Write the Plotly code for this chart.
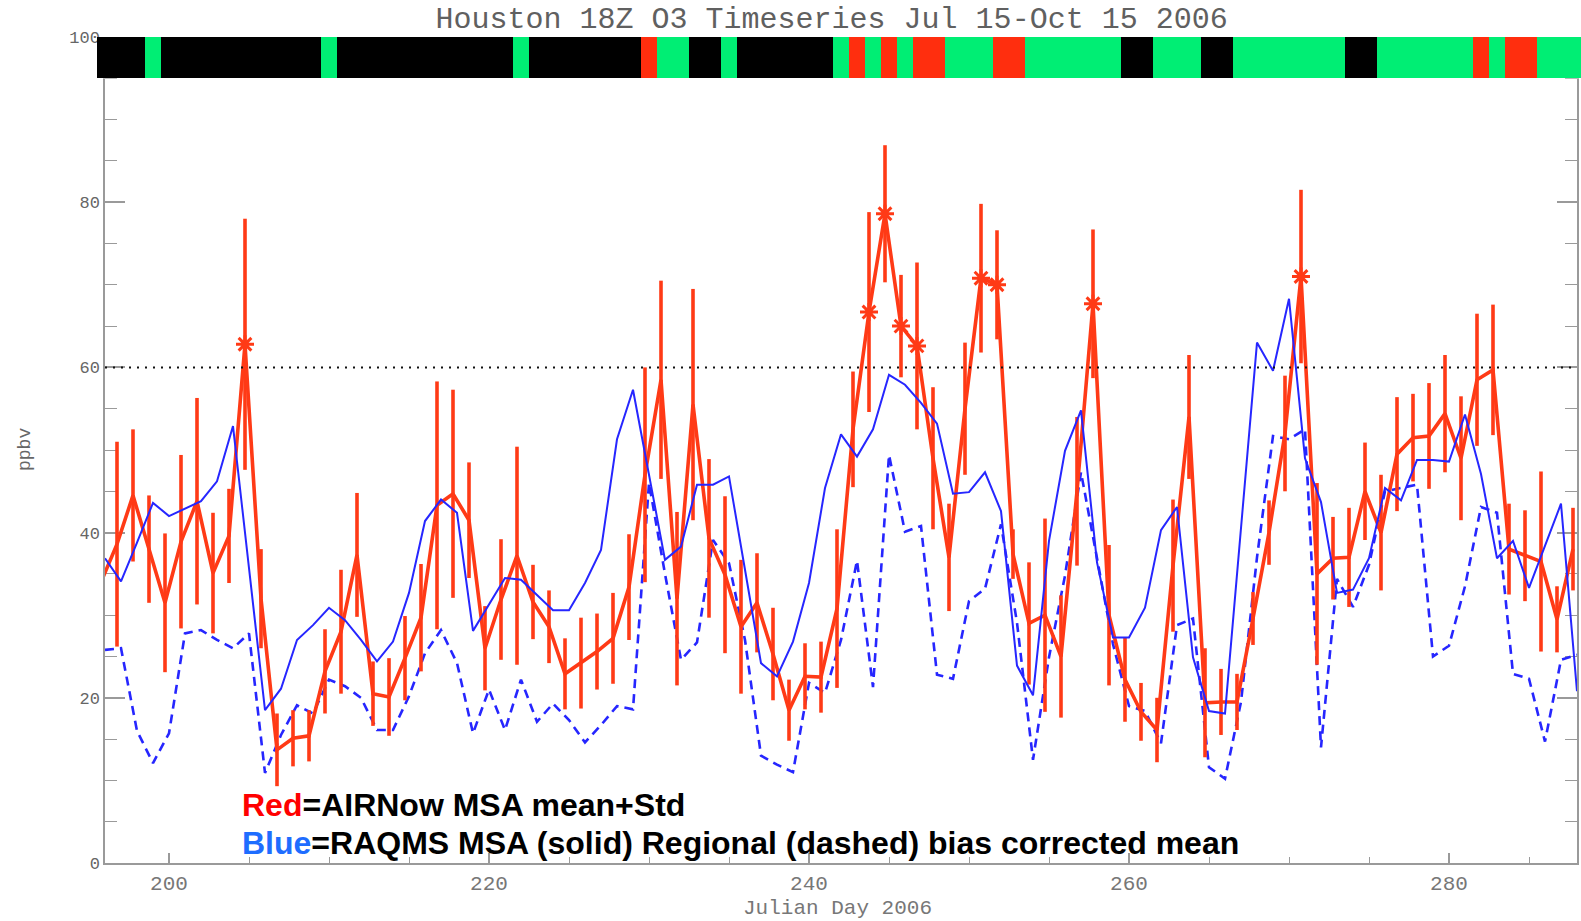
import plotly.graph_objects as go

# ---------------- data ----------------
TITLE = "Houston 18Z O3 Timeseries Jul 15-Oct 15 2006"
X_MIN, X_MAX = 196, 288
Y_MIN, Y_MAX = 0, 100
X_TICKS = [200, 220, 240, 260, 280]
Y_TICKS = [0, 20, 40, 60, 80, 100]
Y_TICK_TEXT = ["0", "20", "40", "60", "80", "100"]
THRESHOLD = 60
OBS_HOUR = 18  # 18Z observations

# daily air-quality band, days 196..288 (K=black, G=green, R=red)
band_days = list(range(196, 289))
band_quality = list(
    "KKKG" "KKKKKKKKKK" "G" "KKKKKKKKKKK" "G" "KKKKKKK" "RGGKKG" "KKKKKK"
    "GRGRGRRGGGRR" "GGGGGG" "KKGGGKK" "GGGGGGG" "KK" "GGGGGG" "RGRRGGG"
)
band_colors = {"K": "#000000", "G": "#00ee74", "R": "#ff2e0e"}

# AIRNow MSA mean and std (days 195..287 at 18Z)
obs_days = list(range(195, 288))
airnow_mean = [
    34.0, 38.6, 44.5, 38.0, 31.5, 38.9, 43.8, 35.1, 39.6, 62.8,
    32.0, 13.7, 15.1, 15.4, 23.2, 28.0, 37.3, 20.5, 20.1, 24.8,
    29.7, 43.3, 44.7, 41.5, 26.0, 31.9, 37.2, 31.6, 28.6, 22.9,
    24.2, 25.6, 27.2, 33.4, 47.0, 58.5, 32.0, 55.5, 39.3, 34.9,
    28.6, 31.5, 25.3, 18.5, 22.6, 22.5, 30.8, 52.5, 66.7, 78.6,
    65.0, 62.6, 49.0, 37.0, 55.0, 70.8, 70.0, 37.4, 29.0, 30.0,
    25.0, 45.0, 67.7, 30.0, 22.2, 18.3, 16.1, 36.0, 54.0, 19.4,
    19.5, 19.5, 29.6, 40.0, 52.0, 71.0, 35.0, 36.9, 37.0, 45.0,
    40.0, 49.5, 51.5, 51.7, 54.4, 49.0, 58.5, 59.7, 38.0, 37.2,
    36.5, 29.5, 38.0,
]
airnow_std = [
    8.0, 12.4, 8.0, 6.5, 8.4, 10.5, 12.5, 7.3, 5.7, 15.2,
    6.0, 4.4, 3.4, 3.1, 5.1, 7.5, 7.5, 3.9, 4.7, 5.1,
    6.5, 15.0, 12.6, 7.0, 5.1, 7.3, 13.2, 4.5, 4.4, 4.3,
    5.5, 4.6, 5.5, 6.4, 13.0, 12.0, 10.5, 14.0, 9.6, 9.5,
    8.1, 6.0, 5.6, 3.7, 4.0, 4.3, 9.6, 7.0, 12.1, 8.3,
    6.2, 10.1, 8.6, 6.5, 8.0, 9.0, 6.6, 3.0, 7.4, 11.7,
    7.4, 9.0, 9.0, 8.5, 5.1, 3.5, 3.9, 8.0, 7.5, 6.6,
    4.0, 3.4, 3.2, 3.9, 7.0, 10.5, 11.0, 5.0, 6.0, 5.9,
    7.0, 6.9, 5.3, 6.4, 7.1, 7.5, 8.0, 7.9, 5.5, 5.5,
    10.9, 4.0, 5.0,
]

# RAQMS bias corrected means (days 196..288)
model_days = list(range(196, 289))
raqms_msa = [
    36.9, 34.1, 38.8, 43.6, 42.0, 42.9, 43.8, 46.2, 52.9, 35.7,
    18.5, 21.1, 27.0, 28.8, 30.9, 29.4, 27.0, 24.4, 26.8, 32.7,
    41.4, 44.0, 42.4, 28.1, 31.3, 34.5, 34.3, 32.5, 30.6, 30.6,
    33.9, 37.9, 51.3, 57.3, 47.0, 36.7, 38.3, 45.8, 45.8, 46.8,
    35.5, 24.2, 22.6, 26.8, 33.9, 45.4, 51.9, 49.2, 52.5, 59.1,
    57.9, 55.7, 53.2, 44.7, 44.9, 47.3, 42.6, 23.9, 20.3, 39.0,
    49.9, 54.8, 36.4, 27.3, 27.3, 30.9, 40.3, 43.1, 24.9, 18.4,
    18.1, 40.5, 63.0, 59.6, 68.3, 49.0, 43.7, 32.7, 33.1, 36.9,
    45.4, 43.9, 48.8, 48.8, 48.6, 54.3, 47.1, 36.9, 39.0, 33.3,
    38.4, 43.5, 20.8,
]
raqms_regional = [
    25.8, 26.0, 16.0, 12.1, 15.7, 27.8, 28.2, 27.0, 26.0, 27.8,
    10.9, 15.5, 19.1, 18.1, 22.2, 21.4, 20.0, 16.1, 16.1, 20.2,
    25.4, 28.2, 24.2, 15.7, 21.0, 16.1, 22.2, 17.1, 19.3, 17.3,
    14.6, 16.7, 19.0, 18.6, 46.0, 35.0, 24.6, 26.7, 39.1, 36.3,
    27.0, 13.0, 11.9, 11.0, 21.8, 20.6, 27.0, 36.6, 21.3, 49.4,
    40.1, 40.8, 22.8, 22.3, 31.7, 33.2, 41.0, 29.1, 12.5, 24.9,
    34.8, 47.3, 36.9, 26.5, 19.0, 18.4, 14.5, 28.8, 29.6, 11.6,
    10.2, 19.5, 37.0, 51.7, 51.3, 52.5, 14.0, 34.4, 31.0, 36.1,
    45.0, 45.4, 45.8, 25.0, 26.3, 33.5, 43.1, 42.4, 22.9, 22.3,
    14.7, 24.6, 25.2,
]

# ---------------- layout geometry ----------------
W, H = 1581, 921
L, R, T, B = 97, 0, 37, 58
PW, PH = W - L - R, H - T - B
AX_LEFT_PX, AX_RIGHT_PX = 105, 1577
x_domain = [(AX_LEFT_PX - L) / PW, (AX_RIGHT_PX - L) / PW]
px_per_day = (AX_RIGHT_PX - AX_LEFT_PX) / (X_MAX - X_MIN)
band_range = [band_days[0] - 0.5, band_days[0] - 0.5 + PW / px_per_day]

RED = "#ff3a16"
BLUE = "#2626ff"
AXIS_GRAY = "#9a9a9a"
MONO = "Liberation Mono, DejaVu Sans Mono, monospace"

obs_x = [d + OBS_HOUR / 24 for d in obs_days]
star_x = [x for x, m in zip(obs_x, airnow_mean) if m > THRESHOLD]
star_y = [m for m in airnow_mean if m > THRESHOLD]

fig = go.Figure()

# quality band
fig.add_trace(go.Bar(
    x=band_days, y=[1] * len(band_days), width=1,
    marker=dict(color=[band_colors[q] for q in band_quality], line=dict(width=0)),
    xaxis="x2", yaxis="y2", showlegend=False, hoverinfo="skip",
))

# regional (dashed)
fig.add_trace(go.Scatter(
    x=model_days, y=raqms_regional, mode="lines",
    line=dict(color=BLUE, width=2.6, dash="9px,6px"), showlegend=False,
))

# AIRNow mean + std
fig.add_trace(go.Scatter(
    x=obs_x, y=airnow_mean, mode="lines",
    line=dict(color=RED, width=3.6),
    error_y=dict(type="data", array=airnow_std, visible=True,
                 color=RED, thickness=3.6, width=0),
    showlegend=False,
))
fig.add_trace(go.Scatter(
    x=star_x, y=star_y, mode="markers",
    marker=dict(symbol="asterisk-open", size=15, color=RED,
                line=dict(color=RED, width=3)),
    showlegend=False,
))

# MSA (solid)
fig.add_trace(go.Scatter(
    x=model_days, y=raqms_msa, mode="lines",
    line=dict(color=BLUE, width=2), showlegend=False,
))

# threshold line
fig.add_shape(type="line", xref="x domain", x0=0, x1=1, yref="y",
              y0=THRESHOLD, y1=THRESHOLD,
              line=dict(color="#111111", width=2, dash="2px,6px"))

fig.update_layout(
    width=W, height=H,
    margin=dict(l=L, r=R, t=T, b=B, autoexpand=False),
    paper_bgcolor="white", plot_bgcolor="white",
    title=dict(text=TITLE, x=0.526, xref="container", xanchor="center",
               y=1 - 17 / H, yref="container", yanchor="middle",
               font=dict(family=MONO, size=30, color="#606060")),
    xaxis=dict(
        domain=x_domain, range=[X_MIN, X_MAX], anchor="y",
        tickvals=X_TICKS, ticktext=[str(t) for t in X_TICKS],
        ticks="inside", ticklen=10, tickwidth=1.5, tickcolor=AXIS_GRAY,
        minor=dict(dtick=5, tick0=X_TICKS[0], ticks="inside", ticklen=6,
                   tickwidth=1.2, tickcolor=AXIS_GRAY, showgrid=False),
        showline=True, linecolor=AXIS_GRAY, linewidth=1.5, mirror=False,
        showgrid=False, zeroline=False, layer="below traces",
        tickfont=dict(family=MONO, size=21, color="#777777"),
    ),
    yaxis=dict(
        domain=[0, 1], range=[Y_MIN, Y_MAX], anchor="x",
        tickvals=Y_TICKS, ticktext=Y_TICK_TEXT,
        ticks="inside", ticklen=20, tickwidth=1.5, tickcolor=AXIS_GRAY,
        minor=dict(dtick=5, tick0=0, ticks="inside", ticklen=12,
                   tickwidth=1.2, tickcolor=AXIS_GRAY, showgrid=False),
        showline=True, linecolor=AXIS_GRAY, linewidth=1.5, mirror="ticks",
        showgrid=False, zeroline=False, layer="below traces",
        tickfont=dict(family=MONO, size=17, color="#666666"),
    ),
    xaxis2=dict(domain=[0, 1], range=band_range, anchor="y2", visible=False,
                fixedrange=True),
    yaxis2=dict(domain=[0.95, 1], range=[0, 1], anchor="x2", visible=False,
                fixedrange=True),
    bargap=0,
)

fig.add_annotation(text="ppbv", textangle=-90, xref="paper", yref="paper",
                   x=(25 - L) / PW, y=(H - B - 450) / PH, showarrow=False,
                   xanchor="center", yanchor="middle",
                   font=dict(family=MONO, size=18, color="#666666"))
fig.add_annotation(text="Julian Day 2006", xref="paper", yref="paper",
                   x=(837 - L) / PW, y=(H - B - 909) / PH, showarrow=False,
                   xanchor="center", yanchor="middle",
                   font=dict(family=MONO, size=21, color="#777777"))

LEG_FONT = dict(family="Liberation Sans, Arial, sans-serif", size=32, color="#000000")
fig.add_annotation(
    text="<b><span style='color:#ff0000'>Red</span>=AIRNow MSA mean+Std</b>",
    xref="paper", yref="paper", x=(240 - L) / PW, y=(H - B - 805) / PH,
    xanchor="left", yanchor="middle", showarrow=False, font=LEG_FONT)
fig.add_annotation(
    text="<b><span style='color:#1e6dff'>Blue</span>=RAQMS MSA (solid) Regional (dashed) bias corrected mean</b>",
    xref="paper", yref="paper", x=(240 - L) / PW, y=(H - B - 843) / PH,
    xanchor="left", yanchor="middle", showarrow=False, font=LEG_FONT)

fig.write_html("out.html")
